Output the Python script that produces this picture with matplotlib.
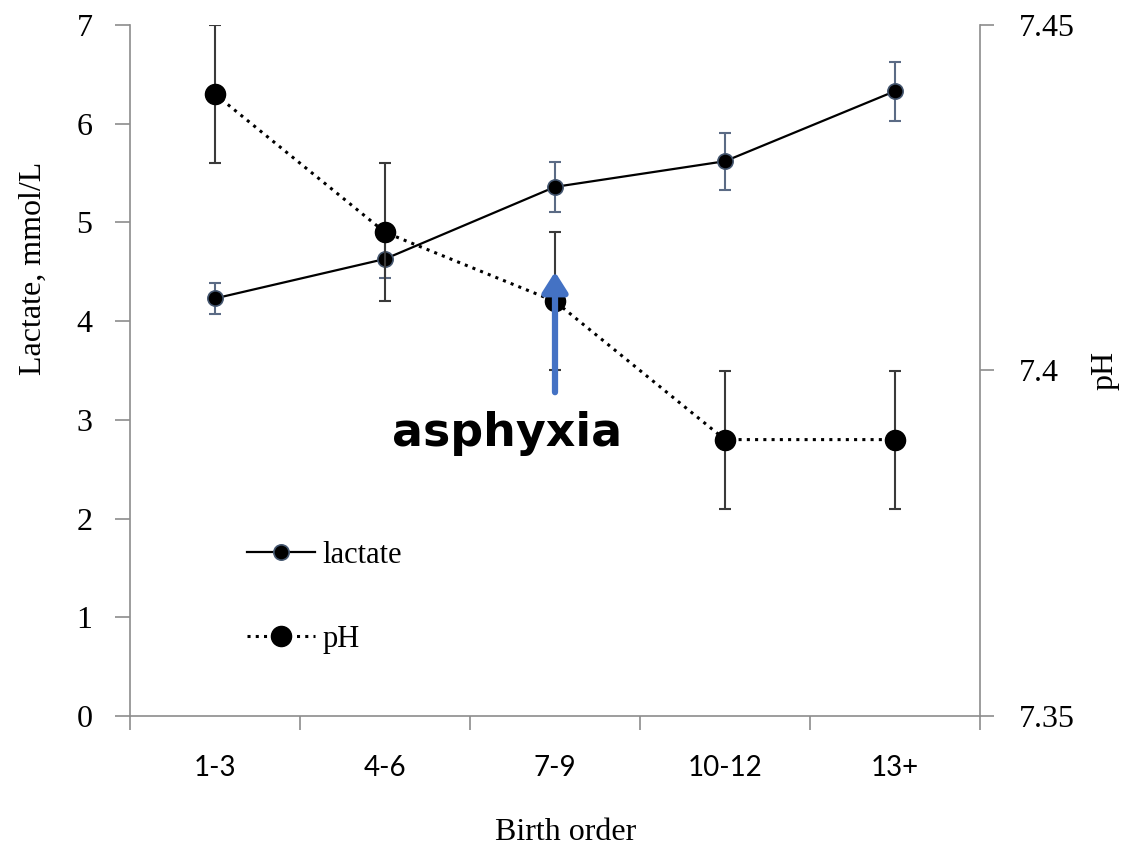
import numpy as np
import matplotlib
matplotlib.use("Agg")
import matplotlib.pyplot as plt
import matplotlib.ticker as mticker

# Lactate and pH by birth order (means with error bars)
birth_order = ["1-3", "4-6", "7-9", "10-12", "13+"]
lactate = [4.23, 4.63, 5.36, 5.62, 6.33]
lactate_err = [0.16, 0.19, 0.25, 0.29, 0.30]
ph = [7.44, 7.42, 7.41, 7.39, 7.39]
ph_err = [0.01, 0.01, 0.01, 0.01, 0.01]

# Arrow marking the onset of asphyxia (lactate axis units)
arrow_x = 2
arrow_from = 3.28
arrow_to = 4.50

SERIF = "Liberation Serif"
SANS = "Lato"
AXIS_GREY = "#8c8c8c"
LAC_EDGE = "#44566f"
LAC_ERR = "#5b6b85"
PH_ERR = "#3a3a3a"
ARROW_BLUE = "#4472C4"

plt.rcParams.update({
    "font.family": SERIF,
    "axes.edgecolor": AXIS_GREY,
    "axes.linewidth": 1.2,
})

fig = plt.figure(figsize=(11.25, 8.5), dpi=100)
ax = fig.add_axes([130 / 1125, 1 - 716 / 850, 850 / 1125, 691 / 850])
ax2 = ax.twinx()

x = np.arange(len(birth_order))

# lactate series: solid line, small markers with slate error bars
ax.errorbar(x, lactate, yerr=lactate_err, fmt="none", ecolor=LAC_ERR,
            elinewidth=1.5, capsize=4.5, capthick=1.5, zorder=2)
lac_line, = ax.plot(x, lactate, color="black", lw=1.6, marker="o",
                    markersize=11, markerfacecolor="black",
                    markeredgecolor=LAC_EDGE, markeredgewidth=1.2, zorder=3)

# pH series on the right axis: dotted line, large markers
ax2.errorbar(x, ph, yerr=ph_err, fmt="none", ecolor=PH_ERR,
             elinewidth=1.5, capsize=4.5, capthick=1.5, zorder=2)
ph_line, = ax2.plot(x, ph, color="black", lw=2.2, linestyle=(0, (1, 1.7)),
                    marker="o", markersize=14.5, markerfacecolor="black",
                    markeredgecolor="black", zorder=3)

# left axis
ax.set_xlim(-0.5, len(birth_order) - 0.5)
ax.set_ylim(0, 7)
ax.yaxis.set_major_locator(mticker.MultipleLocator(1))
ax.tick_params(axis="y", which="major", direction="out", length=11,
               width=1.2, color=AXIS_GREY, labelsize=23, pad=16)
ax.set_ylabel("Lactate, mmol/L", fontsize=23, va="center")
ax.yaxis.set_label_coords(-0.114, 0.648)

# category axis: labels at centres, tick marks between categories
ax.set_xticks(x)
ax.set_xticklabels(birth_order, fontfamily=SANS, fontsize=20)
ax.set_xticks(np.arange(len(birth_order) + 1) - 0.5, minor=True)
ax.tick_params(axis="x", which="major", length=0, pad=28)
ax.tick_params(axis="x", which="minor", direction="out", length=10,
               width=1.2, color=AXIS_GREY)
ax.set_xlabel("Birth order", fontsize=23, va="center")
ax.xaxis.set_label_coords(0.513, -0.169)

# right axis
ax2.set_ylim(7.35, 7.45)
ax2.set_yticks([7.35, 7.4, 7.45])
ax2.set_yticklabels(["7.35", "7.4", "7.45"])
ax2.tick_params(axis="y", direction="out", length=10, width=1.2,
                color=AXIS_GREY, labelsize=23, pad=18)
ax2.set_ylabel("pH", fontsize=23, va="center")
ax2.yaxis.set_label_coords(1.147, 0.5)

for a in (ax, ax2):
    a.spines["top"].set_visible(False)
ax.spines["right"].set_visible(False)
ax2.spines["left"].set_visible(False)
ax2.spines["bottom"].set_visible(False)

# annotation arrow and label
ax2.annotate("", xy=(arrow_x, arrow_to), xytext=(arrow_x, arrow_from),
             xycoords=ax.transData, textcoords=ax.transData,
             arrowprops=dict(arrowstyle="-|>,head_length=0.6,head_width=0.38",
                             mutation_scale=20, lw=4.5, color=ARROW_BLUE,
                             shrinkA=0, shrinkB=0), zorder=5)
ax2.text(1.72, 2.86, "asphyxia", transform=ax.transData, fontfamily="DejaVu Sans",
         fontweight="heavy", fontsize=33, ha="center", va="center", zorder=6)

leg = ax2.legend([lac_line, ph_line], ["lactate", "pH"], loc="center left",
                 bbox_to_anchor=(0.138, 0.172), frameon=False, fontsize=22,
                 handlelength=2.2, handletextpad=0.25, labelspacing=1.8,
                 borderpad=0, borderaxespad=0)

fig.savefig("out.png", dpi=100)
